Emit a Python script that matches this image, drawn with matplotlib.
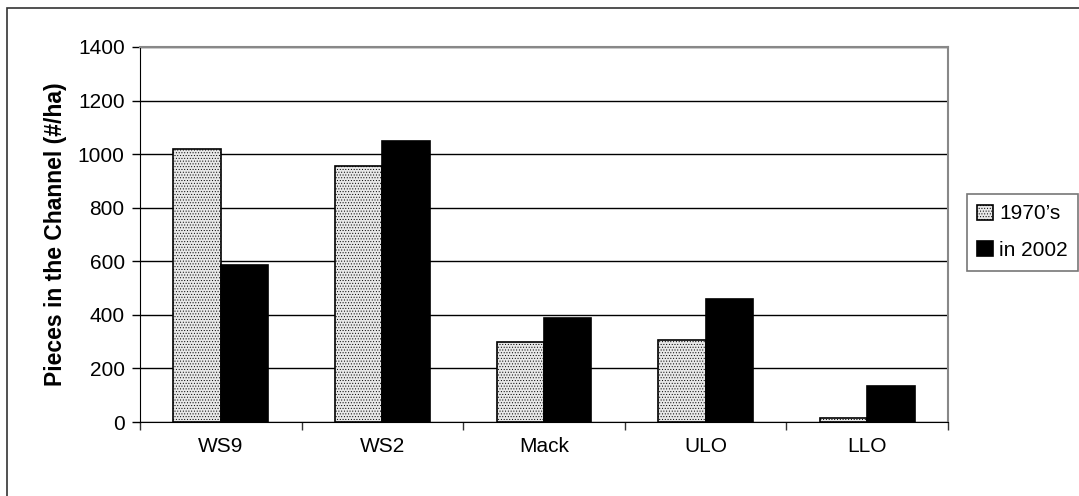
'''Large wood pieces in the channel, 1970s vs 2002'''

import numpy as np
import matplotlib.pyplot as plt
from matplotlib.patches import Rectangle

plt.rcParams['font.family'] = ['Liberation Sans', 'DejaVu Sans']
plt.rcParams['hatch.color'] = '#d8d8d8'
plt.rcParams['hatch.linewidth'] = 0.4

sites = ['WS9', 'WS2', 'Mack', 'ULO', 'LLO']
vals_1970s = [1020, 955, 300, 305, 15]
vals_2002 = [585, 1050, 390, 460, 133]
labels = ['1970\u2019s', 'in 2002']

fig = plt.figure(figsize=(10.79, 4.96), dpi=100)
ax = fig.add_axes([140/1079, 1 - 422/496, 808/1079, 375/496])

x = np.arange(len(sites))
w = 0.293
ax.bar(x - w/2, vals_1970s, w, color='#e8e8e8', edgecolor='black',
       linewidth=1.2, hatch='......', label=labels[0], zorder=3)
ax.bar(x + w/2, vals_2002, w, color='black', edgecolor='black',
       linewidth=1.2, label=labels[1], zorder=3)

ax.set_xlim(-0.5, len(sites) - 0.5)
ax.set_ylim(0, 1400)
ax.set_yticks(np.arange(0, 1401, 200))
ax.set_xticks(x)
ax.set_xticklabels(sites)
ax.set_xticks(np.arange(-0.5, len(sites)), minor=True)
ax.tick_params(axis='x', which='major', length=0, pad=11, labelsize=15)
ax.tick_params(axis='x', which='minor', length=6, width=1, color='#333333')
ax.tick_params(axis='y', length=6, width=1, pad=5, labelsize=15)
ax.yaxis.grid(True, color='black', linewidth=1, zorder=0)
ax.set_axisbelow(True)

ax.spines['left'].set_color('black')
ax.spines['bottom'].set_color('black')
ax.spines['top'].set_color('#888888')
ax.spines['right'].set_color('#888888')
ax.spines['top'].set_linewidth(1.5)
ax.spines['right'].set_linewidth(1.5)

ax.set_ylabel('Pieces in the Channel (#/ha)', fontsize=16.5,
              fontweight='bold', labelpad=8)

leg = fig.legend(loc='upper left', bbox_to_anchor=(967/1079, 1 - 194/496),
                 fontsize=15, frameon=True, fancybox=False, edgecolor='#555555',
                 handlelength=0.75, handleheight=0.75, handletextpad=0.3,
                 borderpad=0.5, labelspacing=0.85, borderaxespad=0)
leg.get_frame().set_linewidth(1.2)

# outer chart border
fig.patches.append(Rectangle((7/1079, -0.1), 1.2, 1 - 8/496 + 0.1,
                             transform=fig.transFigure, fill=False,
                             edgecolor='#333333', linewidth=1.2))

plt.savefig('out.png', dpi=100)
